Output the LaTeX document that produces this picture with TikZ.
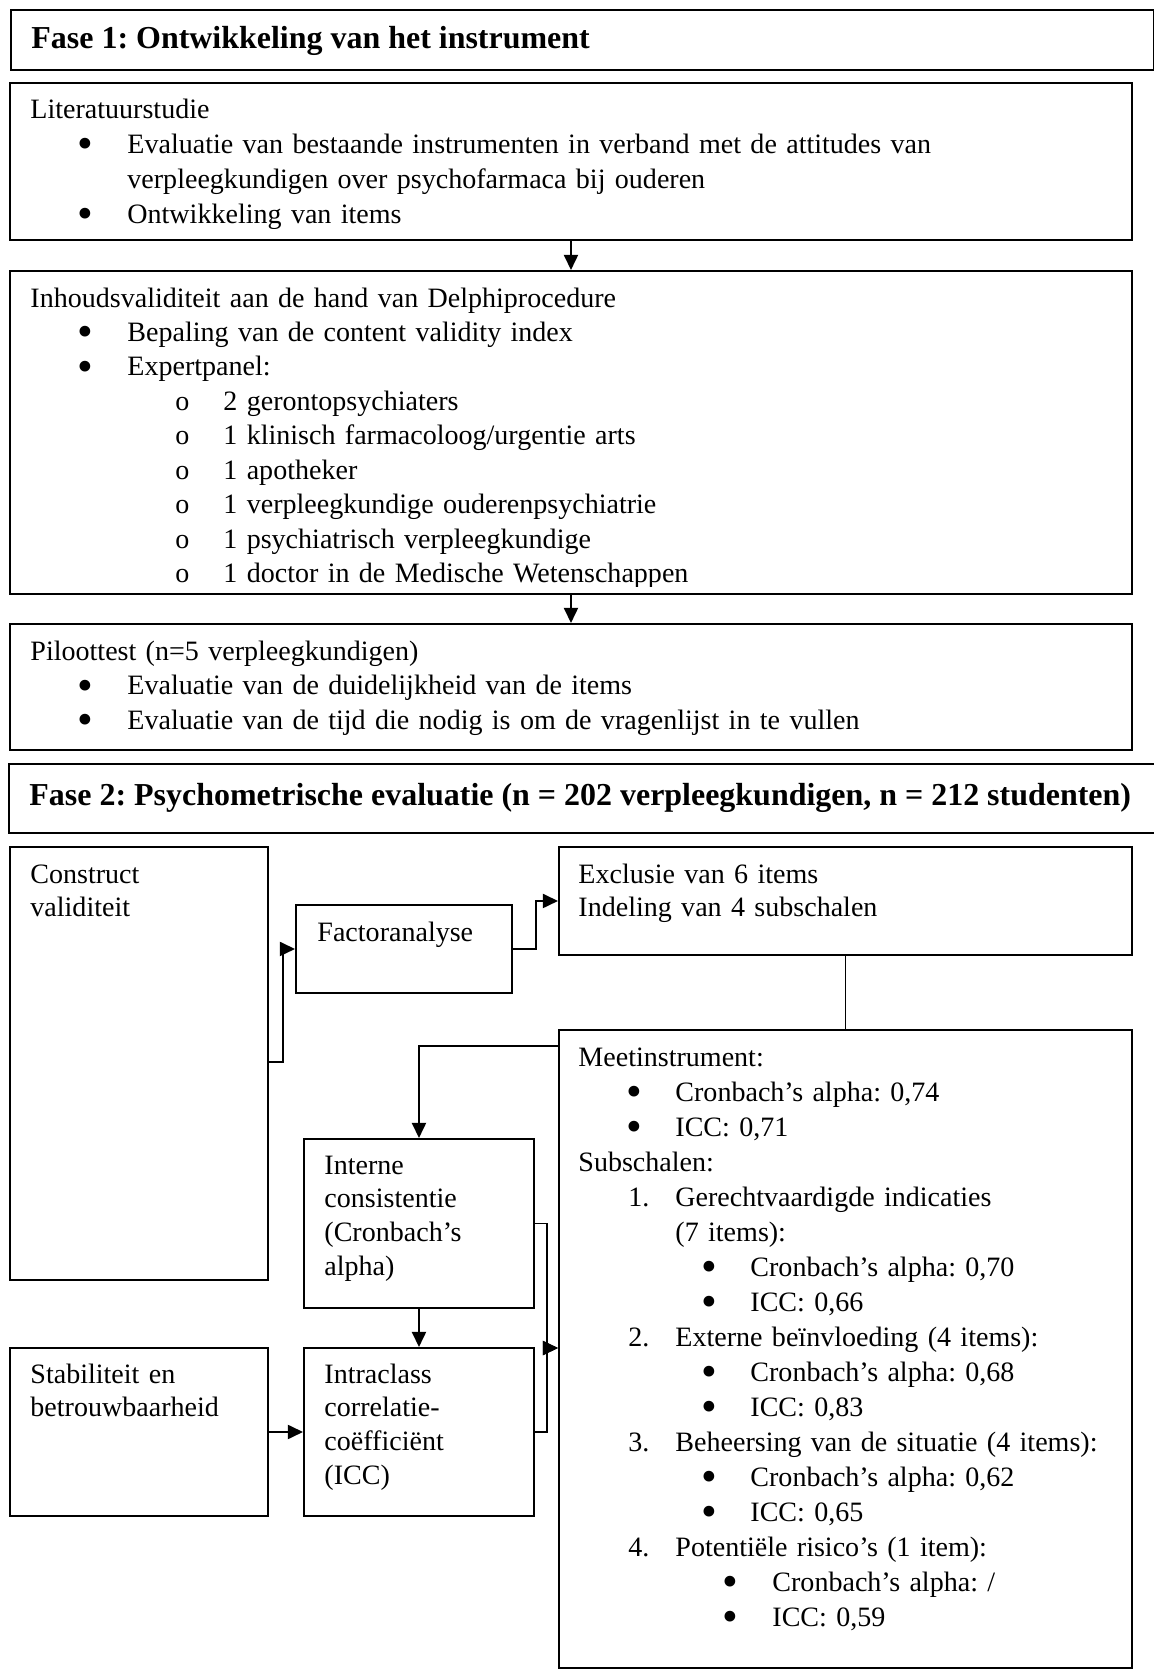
\documentclass[tikz,border=0pt]{standalone}
\usepackage{fontspec}
\setmainfont{Liberation Serif}
\usetikzlibrary{arrows.meta,positioning}
\frenchspacing

% one pixel of the original scan
\newlength\pxu
\setlength\pxu{0.46pt}
% line helpers, offsets in pixels from the text start
\newcommand\dotmark{\smash{\raisebox{-2.4pt}{\scalebox{1.6}{•}}}}
\newcommand\ind[2]{\hspace*{#1\pxu}#2}
\newcommand\bul[3]{\hspace*{#1\pxu}\makebox[0pt]{\dotmark}\hspace*{\dimexpr#2\pxu-#1\pxu\relax}#3}
\newcommand\opt[3]{\hspace*{#1\pxu}\makebox[0pt]{o}\hspace*{\dimexpr#2\pxu-#1\pxu\relax}#3}
\newcommand\nr[4]{\hspace*{#1\pxu}\makebox[0pt][l]{#2}\hspace*{\dimexpr#3\pxu-#1\pxu\relax}#4}

\begin{document}
\begin{tikzpicture}[x=\pxu,y=-\pxu,
  box/.style={draw,line width=0.9pt,inner sep=0pt,anchor=north west},
  wh/.style 2 args={minimum width=#1*\pxu,minimum height=#2*\pxu},
  txt/.style={anchor=base west,inner sep=0pt,text width=480pt,align=left,
    font=\fontsize{12.9}{16}\selectfont},
  small/.style={txt,font=\fontsize{12.9}{15.6}\selectfont},
  head/.style={anchor=base west,inner sep=0pt,font=\fontsize{14.7}{16}\selectfont\bfseries},
  arr/.style={line width=0.9pt,-{Triangle[length=7pt,width=6.5pt]}},
  lnk/.style={line width=0.9pt}]
 \useasboundingbox (0,0) rectangle (1154,1670);

 % fase 1
 \node[box,wh={1143}{60}] (fase1) at (10,9) {};
 \node[head] (fase1t) at (31,49) {Fase 1: Ontwikkeling van het instrument};

 \node[box,wh={1122}{157}] (litbox) at (9,82) {};
 \begin{scope}
  \clip (litbox.north west) rectangle ([yshift=12\pxu]litbox.south east);
  \node[txt] (littxt) at (30,119) {Literatuurstudie\\
   \bul{55}{97}{Evaluatie van bestaande instrumenten in verband met de attitudes van}\\
   \ind{97}{verpleegkundigen over psychofarmaca bij ouderen}\\
   \bul{55}{97}{Ontwikkeling van items}};
 \end{scope}

 \node[box,wh={1122}{323}] (delphibox) at (9,270) {};
 \begin{scope}
  \clip (delphibox.north west) rectangle ([yshift=8\pxu]delphibox.south east);
  \node[txt,font=\fontsize{12.9}{15.85}\selectfont] (delphitxt) at (30,307)
   {Inhoudsvaliditeit aan de hand van Delphiprocedure\\
   \bul{55}{97}{Bepaling van de content validity index}\\
   \bul{55}{97}{Expertpanel:}\\
   \opt{152}{193}{2 gerontopsychiaters}\\
   \opt{152}{193}{1 klinisch farmacoloog/urgentie arts}\\
   \opt{152}{193}{1 apotheker}\\
   \opt{152}{193}{1 verpleegkundige ouderenpsychiatrie}\\
   \opt{152}{193}{1 psychiatrisch verpleegkundige}\\
   \opt{152}{193}{1 doctor in de Medische Wetenschappen}};
 \end{scope}

 \node[box,wh={1122}{126}] (pilotbox) at (9,623) {};
 \node[txt] (pilottxt) at (30,660) {Piloottest (n=5 verpleegkundigen)\\
  \bul{55}{97}{Evaluatie van de duidelijkheid van de items}\\
  \bul{55}{97}{Evaluatie van de tijd die nodig is om de vragenlijst in te vullen}};

 \draw[arr] (litbox.south) -- (delphibox.north);
 \draw[arr] (delphibox.south) -- (pilotbox.north);

 % fase 2
 \node[box,wh={1150}{69}] (fase2) at (8,763) {};
 \node[head] (fase2t) at (29,805)
  {Fase 2: Psychometrische evaluatie (n = 202 verpleegkundigen, n = 212 studenten)};

 \node[box,wh={258}{433}] (constrbox) at (9,846) {};
 \node[small] (constrtxt) at (30,883) {Construct\\validiteit};
 \node[box,wh={216}{88}] (factorbox) at (295,904) {};
 \node[small] (factortxt) at (317,941) {Factoranalyse};
 \node[box,wh={573}{108}] (exclbox) at (558,846) {};
 \node[small] (excltxt) at (578,883) {Exclusie van 6 items\\Indeling van 4 subschalen};

 \node[box,wh={573}{638}] (meetbox) at (558,1029) {};
 \node[txt,text width=260pt,font=\fontsize{12.9}{16.1}\selectfont] (meettxt) at (578,1066)
  {Meetinstrument:\\
  \bul{56}{97}{Cronbach’s alpha: 0,74}\\
  \bul{56}{97}{ICC: 0,71}\\
  Subschalen:\\
  \nr{50}{1.}{97}{Gerechtvaardigde indicaties}\\
  \ind{97}{(7 items):}\\
  \bul{131}{172}{Cronbach’s alpha: 0,70}\\
  \bul{131}{172}{ICC: 0,66}\\
  \nr{50}{2.}{97}{Externe beïnvloeding (4 items):}\\
  \bul{131}{172}{Cronbach’s alpha: 0,68}\\
  \bul{131}{172}{ICC: 0,83}\\
  \nr{50}{3.}{97}{Beheersing van de situatie (4 items):}\\
  \bul{131}{172}{Cronbach’s alpha: 0,62}\\
  \bul{131}{172}{ICC: 0,65}\\
  \nr{50}{4.}{97}{Potentiële risico’s (1 item):}\\
  \bul{152}{194}{Cronbach’s alpha: /}\\
  \bul{152}{194}{ICC: 0,59}};

 \node[box,wh={230}{169}] (internbox) at (303,1138) {};
 \node[small] (interntxt) at (324,1174) {Interne\\consistentie\\(Cronbach’s\\alpha)};
 \node[box,wh={230}{168}] (iccbox) at (303,1347) {};
 \node[small] (icctxt) at (324,1383) {Intraclass\\correlatie-\\coëfficiënt\\(ICC)};
 \node[box,wh={258}{168}] (stabbox) at (9,1347) {};
 \node[small] (stabtxt) at (30,1383) {Stabiliteit en\\betrouwbaarheid};

 % connectors
 \coordinate (cvbend) at (282,1062);
 \draw[arr] (constrbox.east |- cvbend) -| ([xshift=-12\pxu]factorbox.west) -- (factorbox.west);
 \draw[arr] (factorbox.east) -- ++(23,0) |- (exclbox.west);
 \draw[lnk] (exclbox.south) -- (meetbox.north);
 \draw[arr] ([yshift=-17\pxu]meetbox.north west) -| (internbox.north);
 \draw[arr] (internbox.south) -- (iccbox.north);
 \draw[arr] (stabbox.east) -- (iccbox.west);
 \coordinate (meetin) at ([yshift=-319\pxu]meetbox.north west);
 \draw[arr] (internbox.east) -- ++(12,0) |- (meetin);
 \draw[arr] (iccbox.east) -- ++(12,0) |- (meetin);
\end{tikzpicture}
\end{document}
